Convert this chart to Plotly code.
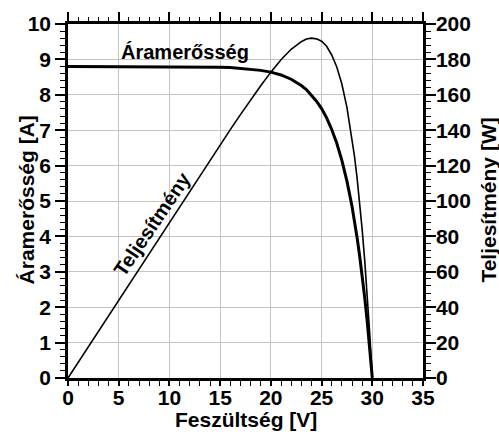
import plotly.graph_objects as go

# Voltage samples [V]
voltage = [0, 5, 10, 12, 14, 15, 16, 17, 18, 19, 20, 21, 22, 22.5, 23, 23.5, 24,
           24.5, 25, 25.5, 26, 26.5, 27, 27.5, 28, 28.25, 28.5, 28.75, 29, 29.25,
           29.5, 29.75, 30]
# Current [A]
current = [8.80, 8.80, 8.80, 8.79, 8.79, 8.78, 8.77, 8.75, 8.73, 8.69, 8.64, 8.56,
           8.44, 8.36, 8.26, 8.15, 8.00, 7.82, 7.61, 7.35, 7.02, 6.63, 6.15, 5.56,
           4.85, 4.43, 3.97, 3.46, 2.90, 2.28, 1.60, 0.84, 0.0]
# Power [W]
power = [0, 44.0, 88.0, 105.5, 123.0, 131.7, 140.3, 148.8, 157.1, 165.1, 172.8,
         179.8, 185.7, 188.1, 190.0, 191.5, 192.0, 191.6, 190.3, 187.4, 182.5,
         175.7, 166.1, 152.9, 135.8, 125.1, 113.1, 99.5, 84.1, 66.7, 47.2, 25.0, 0]

# Tick values / labels
x_ticks = [0, 5, 10, 15, 20, 25, 30, 35]
y_ticks = [0, 1, 2, 3, 4, 5, 6, 7, 8, 9, 10]
y2_ticks = [0, 20, 40, 60, 80, 100, 120, 140, 160, 180, 200]

x_title = "Feszültség [V]"
y_title = "Áramerősség [A]"
y2_title = "Teljesítmény [W]"
label_current = "Áramerősség"
label_power = "Teljesítmény"

FONT = "Liberation Sans, Arial, Helvetica, sans-serif"


def bold(vals):
    return ["<b>%s</b>" % v for v in vals]


fig = go.Figure()
fig.add_trace(go.Scatter(x=voltage, y=power, mode="lines", xaxis="x2", yaxis="y2",
                         line=dict(color="black", width=1.6), showlegend=False,
                         hoverinfo="skip"))
fig.add_trace(go.Scatter(x=voltage, y=current, mode="lines",
                         line=dict(color="black", width=3), showlegend=False,
                         hoverinfo="skip"))

annfont = dict(family=FONT, size=20, color="black", weight=700)
titlefont = dict(family=FONT, size=21, color="black", weight=700)

fig.add_annotation(x=11.5, y=9.21, xref="x", yref="y", text="<b>%s</b>" % label_current,
                   showarrow=False, font=annfont)
fig.add_annotation(x=8.3, y=4.35, xref="x", yref="y", text="<b>%s</b>" % label_power,
                   textangle=-56, showarrow=False, font=annfont)

# axis titles
fig.add_annotation(x=0.501, y=-0.116, xref="paper", yref="paper", text="<b>%s</b>" % x_title,
                   showarrow=False, font=titlefont, xanchor="center", yanchor="middle")
fig.add_annotation(x=-0.118, y=0.502, xref="paper", yref="paper", text="<b>%s</b>" % y_title,
                   textangle=-90, showarrow=False, font=titlefont,
                   xanchor="center", yanchor="middle")
fig.add_annotation(x=1.184, y=0.502, xref="paper", yref="paper", text="<b>%s</b>" % y2_title,
                   textangle=-90, showarrow=False, font=titlefont,
                   xanchor="center", yanchor="middle")

tickfont = dict(family=FONT, size=21, color="black", weight=700)
GRID = "#c4c4c4"

fig.update_layout(
    width=499, height=432,
    margin=dict(l=68, r=76, t=24, b=54, autoexpand=False),
    paper_bgcolor="white", plot_bgcolor="white",
    font=dict(family=FONT, color="black", weight=700),
    hovermode=False,
    xaxis=dict(range=[0, 35], tickvals=x_ticks, ticktext=bold(x_ticks), ticks="outside",
               ticklen=5, tickwidth=1.5, tickcolor="black", showline=True, linewidth=2.5,
               linecolor="black", mirror=True, showgrid=True, gridcolor=GRID,
               gridwidth=1.2, zeroline=False, tickfont=tickfont, anchor="y",
               ticklabelstandoff=-6,
               minor=dict(dtick=1, ticks="outside", ticklen=5, tickwidth=1.2,
                          tickcolor="black", showgrid=False)),
    xaxis2=dict(range=[0, 35], dtick=5, tick0=0, overlaying="x", side="top", anchor="y",
                ticks="outside", ticklen=11, tickwidth=1.5, tickcolor="black",
                showticklabels=False, showline=False, showgrid=False, zeroline=False,
                minor=dict(dtick=1, ticks="outside", ticklen=6, tickwidth=1.2,
                           tickcolor="black", showgrid=False)),
    yaxis=dict(range=[0, 10], tickvals=y_ticks, ticktext=bold(y_ticks), ticks="outside",
               ticklen=10, tickwidth=1.5, tickcolor="black", showline=True, linewidth=2.5,
               linecolor="black", mirror=True, showgrid=True, gridcolor=GRID,
               gridwidth=1.2, zeroline=False, tickfont=tickfont, anchor="x",
               minor=dict(dtick=0.2, ticks="outside", ticklen=5, tickwidth=1.2,
                          tickcolor="black", showgrid=False)),
    yaxis2=dict(range=[0, 200], tickvals=y2_ticks, ticktext=bold(y2_ticks),
                overlaying="y", side="right", anchor="x2",
                ticks="outside", ticklen=10, tickwidth=1.5, tickcolor="black",
                showline=True, linewidth=2.5, linecolor="black", showgrid=False,
                zeroline=False, tickfont=tickfont, ticklabelstandoff=-4,
                minor=dict(dtick=4, ticks="outside", ticklen=5, tickwidth=1.2,
                           tickcolor="black", showgrid=False)),
)

fig.write_html("out.html", config={"displayModeBar": False},
               post_script="document.body.style.margin='0px';document.body.style.overflow='hidden';")
